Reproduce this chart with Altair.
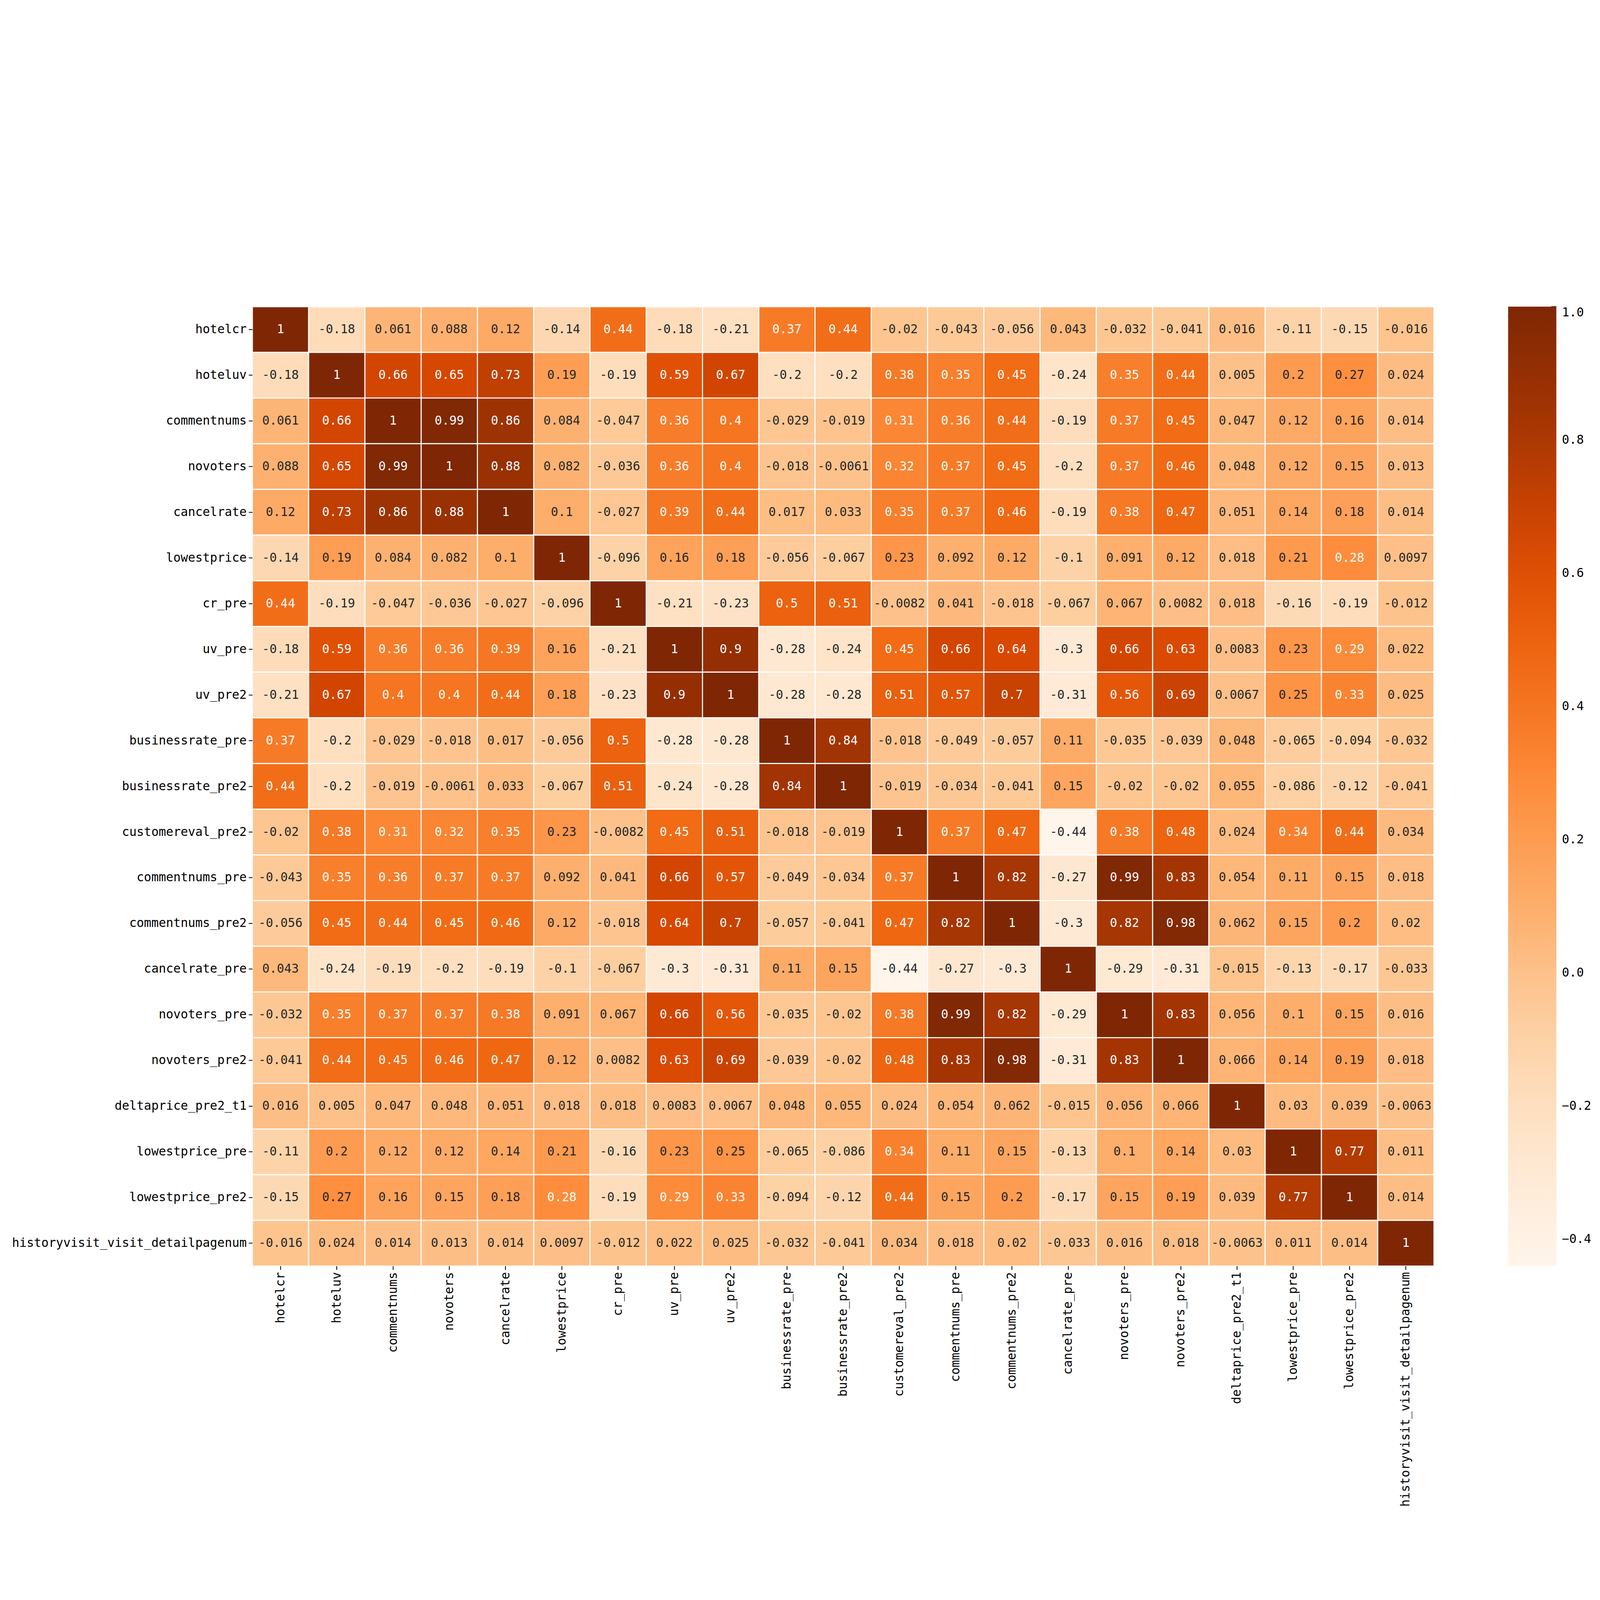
import altair as alt
import pandas as pd

names = [
    "hotelcr", "hoteluv", "commentnums", "novoters", "cancelrate", "lowestprice",
    "cr_pre", "uv_pre", "uv_pre2", "businessrate_pre", "businessrate_pre2",
    "customereval_pre2", "commentnums_pre", "commentnums_pre2", "cancelrate_pre",
    "novoters_pre", "novoters_pre2", "deltaprice_pre2_t1", "lowestprice_pre",
    "lowestprice_pre2", "historyvisit_visit_detailpagenum",
]

corr_rows = [
    [1, -0.18, 0.061, 0.088, 0.12, -0.14, 0.44, -0.18, -0.21, 0.37, 0.44, -0.02, -0.043, -0.056, 0.043, -0.032, -0.041, 0.016, -0.11, -0.15, -0.016],
    [-0.18, 1, 0.66, 0.65, 0.73, 0.19, -0.19, 0.59, 0.67, -0.2, -0.2, 0.38, 0.35, 0.45, -0.24, 0.35, 0.44, 0.005, 0.2, 0.27, 0.024],
    [0.061, 0.66, 1, 0.99, 0.86, 0.084, -0.047, 0.36, 0.4, -0.029, -0.019, 0.31, 0.36, 0.44, -0.19, 0.37, 0.45, 0.047, 0.12, 0.16, 0.014],
    [0.088, 0.65, 0.99, 1, 0.88, 0.082, -0.036, 0.36, 0.4, -0.018, -0.0061, 0.32, 0.37, 0.45, -0.2, 0.37, 0.46, 0.048, 0.12, 0.15, 0.013],
    [0.12, 0.73, 0.86, 0.88, 1, 0.1, -0.027, 0.39, 0.44, 0.017, 0.033, 0.35, 0.37, 0.46, -0.19, 0.38, 0.47, 0.051, 0.14, 0.18, 0.014],
    [-0.14, 0.19, 0.084, 0.082, 0.1, 1, -0.096, 0.16, 0.18, -0.056, -0.067, 0.23, 0.092, 0.12, -0.1, 0.091, 0.12, 0.018, 0.21, 0.28, 0.0097],
    [0.44, -0.19, -0.047, -0.036, -0.027, -0.096, 1, -0.21, -0.23, 0.5, 0.51, -0.0082, 0.041, -0.018, -0.067, 0.067, 0.0082, 0.018, -0.16, -0.19, -0.012],
    [-0.18, 0.59, 0.36, 0.36, 0.39, 0.16, -0.21, 1, 0.9, -0.28, -0.24, 0.45, 0.66, 0.64, -0.3, 0.66, 0.63, 0.0083, 0.23, 0.29, 0.022],
    [-0.21, 0.67, 0.4, 0.4, 0.44, 0.18, -0.23, 0.9, 1, -0.28, -0.28, 0.51, 0.57, 0.7, -0.31, 0.56, 0.69, 0.0067, 0.25, 0.33, 0.025],
    [0.37, -0.2, -0.029, -0.018, 0.017, -0.056, 0.5, -0.28, -0.28, 1, 0.84, -0.018, -0.049, -0.057, 0.11, -0.035, -0.039, 0.048, -0.065, -0.094, -0.032],
    [0.44, -0.2, -0.019, -0.0061, 0.033, -0.067, 0.51, -0.24, -0.28, 0.84, 1, -0.019, -0.034, -0.041, 0.15, -0.02, -0.02, 0.055, -0.086, -0.12, -0.041],
    [-0.02, 0.38, 0.31, 0.32, 0.35, 0.23, -0.0082, 0.45, 0.51, -0.018, -0.019, 1, 0.37, 0.47, -0.44, 0.38, 0.48, 0.024, 0.34, 0.44, 0.034],
    [-0.043, 0.35, 0.36, 0.37, 0.37, 0.092, 0.041, 0.66, 0.57, -0.049, -0.034, 0.37, 1, 0.82, -0.27, 0.99, 0.83, 0.054, 0.11, 0.15, 0.018],
    [-0.056, 0.45, 0.44, 0.45, 0.46, 0.12, -0.018, 0.64, 0.7, -0.057, -0.041, 0.47, 0.82, 1, -0.3, 0.82, 0.98, 0.062, 0.15, 0.2, 0.02],
    [0.043, -0.24, -0.19, -0.2, -0.19, -0.1, -0.067, -0.3, -0.31, 0.11, 0.15, -0.44, -0.27, -0.3, 1, -0.29, -0.31, -0.015, -0.13, -0.17, -0.033],
    [-0.032, 0.35, 0.37, 0.37, 0.38, 0.091, 0.067, 0.66, 0.56, -0.035, -0.02, 0.38, 0.99, 0.82, -0.29, 1, 0.83, 0.056, 0.1, 0.15, 0.016],
    [-0.041, 0.44, 0.45, 0.46, 0.47, 0.12, 0.0082, 0.63, 0.69, -0.039, -0.02, 0.48, 0.83, 0.98, -0.31, 0.83, 1, 0.066, 0.14, 0.19, 0.018],
    [0.016, 0.005, 0.047, 0.048, 0.051, 0.018, 0.018, 0.0083, 0.0067, 0.048, 0.055, 0.024, 0.054, 0.062, -0.015, 0.056, 0.066, 1, 0.03, 0.039, -0.0063],
    [-0.11, 0.2, 0.12, 0.12, 0.14, 0.21, -0.16, 0.23, 0.25, -0.065, -0.086, 0.34, 0.11, 0.15, -0.13, 0.1, 0.14, 0.03, 1, 0.77, 0.011],
    [-0.15, 0.27, 0.16, 0.15, 0.18, 0.28, -0.19, 0.29, 0.33, -0.094, -0.12, 0.44, 0.15, 0.2, -0.17, 0.15, 0.19, 0.039, 0.77, 1, 0.014],
    [-0.016, 0.024, 0.014, 0.013, 0.014, 0.0097, -0.012, 0.022, 0.025, -0.032, -0.041, 0.034, 0.018, 0.02, -0.033, 0.016, 0.018, -0.0063, 0.011, 0.014, 1],
]

colorbar_ticks = [-0.4, -0.2, 0.0, 0.2, 0.4, 0.6, 0.8, 1.0]

records = []
for i, r in enumerate(names):
    for j, c in enumerate(names):
        v = corr_rows[i][j]
        records.append({"row": r, "col": c, "v": v, "label": format(v, ".2g")})
df = pd.DataFrame(records)
ticks_df = pd.DataFrame({"t": colorbar_ticks})

vmin, vmax = -0.44, 1.0
oranges = ["#fff5eb", "#fee6ce", "#fdd0a2", "#fdae6b", "#fd8d3c",
           "#f16913", "#d94801", "#a63603", "#7f2704"]
stops = [vmin + (vmax - vmin) * k / 8 for k in range(9)]

FONT = "DejaVu Sans Mono"
FS = 46
W, H = 4461, 3622
CB_OFFSET, CB_THICK, CB_TICK = 280, 182, 19

x_enc = alt.X("col:N", sort=names, title=None,
              scale=alt.Scale(paddingInner=0, paddingOuter=0),
              axis=alt.Axis(orient="bottom", labelAngle=270, domain=False,
                            tickColor="black", tickWidth=3, tickSize=14,
                            labelPadding=8, labelFont=FONT, labelFontSize=FS,
                            labelColor="black", labelLimit=1500))
y_enc = alt.Y("row:N", sort=names, title=None,
              scale=alt.Scale(paddingInner=0, paddingOuter=0),
              axis=alt.Axis(orient="left", domain=False,
                            tickColor="black", tickWidth=3, tickSize=14,
                            labelPadding=8, labelFont=FONT, labelFontSize=FS,
                            labelColor="black", labelLimit=1500))

rect = alt.Chart(df).mark_rect(stroke="white", strokeWidth=4).encode(
    x=x_enc,
    y=y_enc,
    color=alt.Color("v:Q",
                    scale=alt.Scale(domain=stops, range=oranges, interpolate="rgb"),
                    legend=alt.Legend(title=None, orient="right", offset=CB_OFFSET,
                                      direction="vertical",
                                      gradientLength=H, gradientThickness=CB_THICK,
                                      gradientStrokeWidth=0,
                                      values=colorbar_ticks, format=".1f",
                                      labelFont=FONT, labelFontSize=FS,
                                      labelColor="black", labelOffset=21,
                                      labelBaseline="middle", labelLimit=500,
                                      padding=0)),
)

text = alt.Chart(df).mark_text(font=FONT, fontSize=FS).encode(
    x=alt.X("col:N", sort=names),
    y=alt.Y("row:N", sort=names),
    text="label:N",
    color=alt.condition(alt.datum.v >= 0.275, alt.value("#ffffff"), alt.value("#262626")),
)

heat = alt.layer(rect, text)

cb_ticks = alt.Chart(ticks_df).mark_rule(color="black", strokeWidth=3).encode(
    y=alt.Y("t:Q", scale=alt.Scale(domain=[vmin, vmax], nice=False, zero=False), axis=None),
    x=alt.value(W + CB_OFFSET + CB_THICK - CB_TICK),
    x2=alt.value(W + CB_OFFSET + CB_THICK),
)

chart = alt.layer(heat, cb_ticks).resolve_scale(y="independent").properties(
    width=W, height=H,
    autosize=alt.AutoSizeParams(type="none"),
    padding={"left": 941, "top": 51, "right": 615, "bottom": 940},
).configure_view(stroke=None).configure_legend(
    gradientVerticalMaxLength=5000, gradientVerticalMinLength=100
).configure(background="white")

chart.save("out.html", embed_options={"renderer": "svg", "actions": False})
